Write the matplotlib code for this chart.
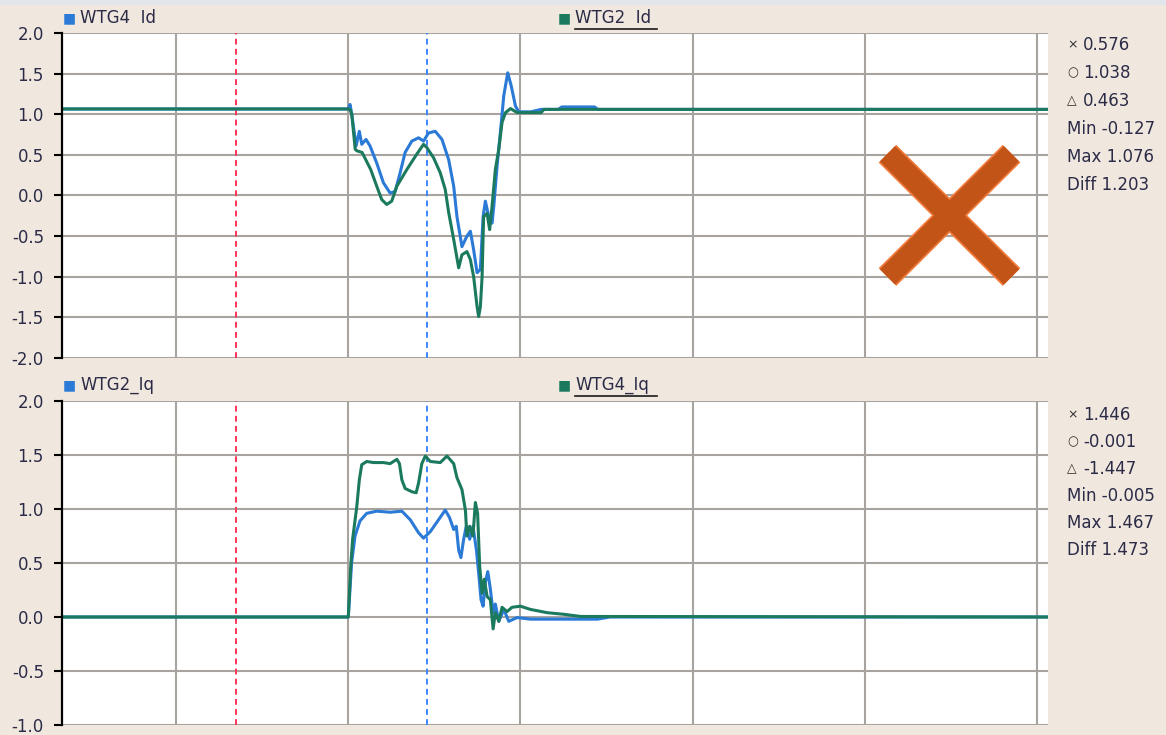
import matplotlib
matplotlib.use('Agg')
import matplotlib.pyplot as plt
from matplotlib.lines import Line2D
from matplotlib.patches import Rectangle

# time in ms, fault starts at 100 ms
t_id_wtg2 = [-66, 100, 101, 102, 104, 105, 108, 113, 116.5, 119.4, 122.3, 125.2, 128.2, 134, 139.8,
             143.7, 145.6, 149.5, 153.4, 156.3, 158.3, 161.2, 164.1, 166, 168.9, 170.9, 172.8, 174.8,
             175.7, 176.7, 177.7, 178.6, 180.6, 182.1, 183.5, 185.4, 187.4, 189.3, 191.3, 194.2,
             198.1, 212, 213.6, 506]
id_wtg2 = [1.065, 1.065, 1.06, 1.0, 0.57, 0.55, 0.53, 0.32, 0.115, -0.05, -0.11, -0.07, 0.115, 0.32, 0.51,
           0.63, 0.59, 0.465, 0.28, 0.074, -0.21, -0.54, -0.89, -0.73, -0.69, -0.79, -1.0, -1.37,
           -1.49, -1.37, -1.0, -0.26, -0.22, -0.42, -0.13, 0.32, 0.57, 0.9, 1.02, 1.07,
           1.02, 1.02, 1.06, 1.06]

t_id_wtg4 = [-66, 100, 101, 102, 104.5, 106.4, 107.8, 110.3, 112.6, 116.5, 120.4, 124.3, 127.2, 130.1,
             133, 136.9, 140.8, 143.7, 146.6, 150.5, 154.4, 158.3, 161.2, 163.1, 166, 168.9, 170.9,
             172.8, 174.8, 176.7, 178.3, 179.6, 181.6, 183.5, 184.5, 186.4, 188.7, 190.3, 192.6,
             194.6, 197.1, 199, 206, 212, 222, 224, 243, 245, 506]
id_wtg4 = [1.065, 1.065, 1.12, 1.0, 0.61, 0.79, 0.63, 0.69, 0.61, 0.40, 0.156, 0.03, 0.05, 0.28,
           0.53, 0.67, 0.71, 0.67, 0.77, 0.79, 0.69, 0.44, 0.115, -0.26, -0.63, -0.50, -0.44,
           -0.67, -0.95, -0.91, -0.26, -0.07, -0.26, -0.34, -0.13, 0.36, 0.86, 1.23, 1.51,
           1.35, 1.10, 1.03, 1.03, 1.06, 1.06, 1.09, 1.09, 1.06, 1.06]

t_iq_wtg4 = [-66, 100, 101.4, 102.5, 104.9, 106.4, 107.8, 110.7, 114.6, 120.4, 124.3, 128.2, 129.7, 131.1,
             133, 136.9, 139.4, 140.8, 142.7, 144.7, 147.6, 153.4, 157.3, 161.2, 163.1, 166, 168,
             168.9, 170.5, 172.4, 173.8, 175.1, 176.3, 177.7, 179, 180.6, 182.5, 184.1, 185.4,
             187.4, 189.3, 192.2, 195.1, 200, 205.8, 215.5, 225.2, 235, 506]
iq_wtg4 = [0, 0, 0.47, 0.72, 1.02, 1.27, 1.41, 1.44, 1.43, 1.43, 1.42, 1.46, 1.42, 1.27,
           1.19, 1.16, 1.15, 1.24, 1.42, 1.49, 1.44, 1.43, 1.49, 1.42, 1.29, 1.18, 0.99,
           0.75, 0.84, 0.75, 1.06, 0.96, 0.47, 0.22, 0.35, 0.19, 0.16, -0.11, 0.04,
           -0.04, 0.09, 0.05, 0.09, 0.10, 0.07, 0.04, 0.025, 0.005, 0]

t_iq_wtg2 = [-66, 100, 101.9, 103.9, 106.8, 110.7, 116.5, 124.3, 131.1, 136, 140.8, 143.7, 147.6, 152.4,
             156.3, 158.8, 161.2, 162.7, 164.1, 165.4, 167, 168.5, 170.5, 172.4, 174.4, 175.7,
             177.1, 178.3, 179.6, 181, 182.5, 184.1, 185.4, 187.4, 190.3, 193.2, 198.1, 205.8,
             225.2, 244.7, 252, 506]
iq_wtg2 = [0, 0, 0.50, 0.75, 0.89, 0.96, 0.98, 0.97, 0.98, 0.90, 0.78, 0.73, 0.79, 0.90,
           0.99, 0.92, 0.81, 0.84, 0.62, 0.55, 0.72, 0.84, 0.72, 0.84, 0.62, 0.41,
           0.16, 0.10, 0.32, 0.42, 0.26, 0.04, 0.12, -0.04, 0.07, -0.04, -0.005, -0.02,
           -0.02, -0.02, 0, 0]

cursor_red = 34.9
cursor_blue = 145.9

stats_top = ['0.576', '1.038', '0.463', '-0.127', '1.076', '1.203']
stats_bot = ['1.446', '-0.001', '-1.447', '-0.005', '1.467', '1.473']
stat_names = ['\u00d7', '\u25cb', '\u25b3', 'Min', 'Max', 'Diff']

blue = '#2a7ad6'
teal = '#1b7a5e'
grid_c = '#a8a39e'
txt_c = '#2b2b48'
bg = '#f0e8de'

fig = plt.figure(figsize=(11.66, 7.35), dpi=100)
fig.patch.set_facecolor(bg)
fig.add_artist(Rectangle((0, 1 - 5/735), 1, 5/735, transform=fig.transFigure, color='#e2e6ea', lw=0))

W, H = 1166.0, 735.0

def px(x, y):
    return x / W, 1 - y / H

def make_axes(top, bottom, ylim, yticks):
    ax = fig.add_axes([62/W, 1 - bottom/H, 986/W, (bottom - top)/H])
    ax.set_facecolor('white')
    ax.set_xlim(-66.3, 506.4)
    ax.set_ylim(*ylim)
    ax.set_xticks([0, 100, 200, 300, 400, 500])
    ax.set_xticklabels([])
    ax.set_yticks(yticks)
    ax.set_yticklabels(['%.1f' % v for v in yticks], fontsize=12, color=txt_c)
    ax.tick_params(axis='x', length=0)
    ax.tick_params(axis='y', length=6, width=1.5, color='black', pad=7)
    ax.grid(True, color=grid_c, lw=1.5)
    ax.set_axisbelow(True)
    for s in ['top', 'right', 'bottom']:
        ax.spines[s].set_visible(False)
    ax.spines['left'].set_linewidth(1.6)
    ax.axvline(cursor_red, color='#ff3358', lw=1.4, ls=(0, (3, 2.2)))
    ax.axvline(cursor_blue, color='#3f86ff', lw=1.4, ls=(0, (3, 2.2)))
    return ax

ax1 = make_axes(33, 358, (-2.0, 2.0), [2.0, 1.5, 1.0, 0.5, 0.0, -0.5, -1.0, -1.5, -2.0])
ax1.plot(t_id_wtg4, id_wtg4, color=blue, lw=2.2)
ax1.plot(t_id_wtg2, id_wtg2, color=teal, lw=2.2)

ax2 = make_axes(401, 725, (-1.0, 2.0), [2.0, 1.5, 1.0, 0.5, 0.0, -0.5, -1.0])
ax2.plot(t_iq_wtg2, iq_wtg2, color=blue, lw=2.2)
ax2.plot(t_iq_wtg4, iq_wtg4, color=teal, lw=2.2)

# orange cross in the top panel
arms = [([0.8372, 0.9630], [0.6286, 0.2492]), ([0.8372, 0.9630], [0.2492, 0.6286])]
for xs, ys in arms:
    ax1.plot(xs, ys, transform=ax1.transAxes, color='#f07a3a', lw=18, solid_capstyle='butt', zorder=5)
for xs, ys in arms:
    ax1.plot(xs, ys, transform=ax1.transAxes, color='#c25418', lw=15.5, solid_capstyle='butt', zorder=6)

# legends above panels
def legend(y, lbl1, lbl2):
    fig.text(*px(63, y), '\u25a0', color=blue, fontsize=10, va='center', ha='left')
    fig.text(*px(80, y), lbl1, color=txt_c, fontsize=12, va='center', ha='left')
    fig.text(*px(558, y), '\u25a0', color=teal, fontsize=10, va='center', ha='left')
    fig.text(*px(575, y), lbl2, color=txt_c, fontsize=12, va='center', ha='left')
    x0, y0 = px(575, y + 11)
    x1, _ = px(657, y + 11)
    fig.add_artist(Line2D([x0, x1], [y0, y0], color='#1a1a1a', lw=1.2, transform=fig.transFigure))

legend(18, 'WTG4  Id', 'WTG2  Id')
legend(385, 'WTG2_Iq', 'WTG4_Iq')

# cursor readouts on the right
def readout(y0, step, vals):
    for i, (n, v) in enumerate(zip(stat_names, vals)):
        y = y0 + i * step
        if i < 3:
            fig.text(*px(1067, y), n, color='#303030', fontsize=9, va='center', ha='left')
            fig.text(*px(1083, y), v, color=txt_c, fontsize=12, va='center', ha='left')
        else:
            fig.text(*px(1067, y), n + ' ' + v, color=txt_c, fontsize=12, va='center', ha='left')

readout(45, 28, stats_top)
readout(415, 27, stats_bot)

plt.savefig('out.png', dpi=100, facecolor=bg)
